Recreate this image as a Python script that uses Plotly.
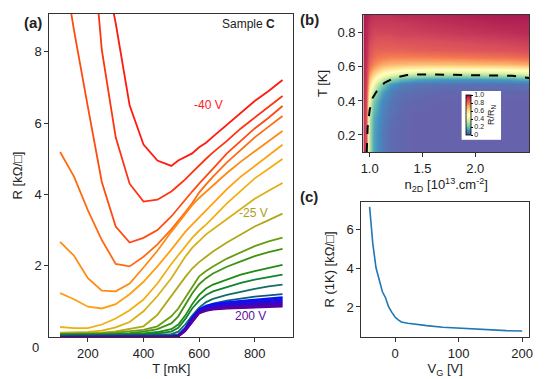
import plotly.graph_objects as go
import plotly.colors as pc

# ---- panel (a): R(T) for gate voltages -40 V ... 200 V ----
T_MK = [100, 150, 200, 250, 300, 350, 400, 450, 500, 525, 550, 575, 600, 625, 650, 700, 750, 800, 850, 900]

R_01 = [20, 16, 13, 10.8, 8.8, 6.5, 5.4, 4.95, 4.8, 4.95, 5.05, 5.15, 5.32, 5.45, 5.62, 5.95, 6.28, 6.62, 6.9, 7.21]
R_02 = [18, 15, 12.5, 8.05, 5.6, 4.3, 3.8, 3.85, 4.08, 4.25, 4.42, 4.62, 4.82, 5.0, 5.18, 5.5, 5.85, 6.15, 6.45, 6.76]
R_03 = [11, 8.6, 6.45, 4.35, 3.1, 2.65, 2.78, 3.0, 3.38, 3.62, 3.85, 4.08, 4.3, 4.5, 4.72, 5.15, 5.5, 5.85, 6.15, 6.48]
R_04 = [5.19, 4.5, 3.55, 2.72, 2.05, 1.98, 2.25, 2.6, 3.02, 3.25, 3.5, 3.75, 4.05, 4.28, 4.5, 4.9, 5.25, 5.6, 5.9, 6.2]
R_05 = [2.67, 2.28, 1.65, 1.3, 1.28, 1.5, 1.95, 2.42, 2.95, 3.2, 3.45, 3.7, 3.9, 4.08, 4.25, 4.6, 4.92, 5.2, 5.5, 5.78]
R_06 = [1.23, 1.06, 0.85, 0.8, 0.92, 1.2, 1.55, 1.98, 2.45, 2.7, 2.95, 3.15, 3.35, 3.55, 3.75, 4.15, 4.5, 4.8, 5.1, 5.39]
R_07 = [0.28, 0.25, 0.25, 0.35, 0.52, 0.75, 1.05, 1.5, 2.05, 2.3, 2.55, 2.78, 2.98, 3.15, 3.35, 3.75, 4.1, 4.45, 4.72, 4.99]
R_08 = [0.12, 0.12, 0.14, 0.18, 0.27, 0.42, 0.72, 1.15, 1.65, 1.95, 2.25, 2.5, 2.7, 2.88, 3.02, 3.3, 3.6, 3.88, 4.1, 4.32]
R_09 = [0.1, 0.1, 0.1, 0.12, 0.16, 0.22, 0.3, 0.62, 1.15, 1.45, 1.68, 1.92, 2.1, 2.25, 2.4, 2.65, 2.88, 3.1, 3.28, 3.46]
R_10 = [0.09, 0.09, 0.09, 0.1, 0.12, 0.15, 0.2, 0.3, 0.58, 0.8, 1.1, 1.42, 1.7, 1.85, 1.98, 2.2, 2.38, 2.55, 2.68, 2.79]
R_11 = [0.08, 0.08, 0.08, 0.08, 0.09, 0.11, 0.15, 0.22, 0.38, 0.58, 0.9, 1.22, 1.48, 1.65, 1.78, 1.97, 2.12, 2.27, 2.38, 2.47]
R_12 = [0.06, 0.06, 0.06, 0.06, 0.07, 0.08, 0.1, 0.14, 0.22, 0.35, 0.6, 0.92, 1.18, 1.36, 1.47, 1.62, 1.75, 1.85, 1.94, 2.02]
R_13 = [0.05, 0.05, 0.05, 0.05, 0.06, 0.07, 0.08, 0.1, 0.15, 0.26, 0.5, 0.8, 1.02, 1.18, 1.28, 1.4, 1.52, 1.61, 1.69, 1.75]
R_14 = [0.04, 0.04, 0.04, 0.04, 0.04, 0.05, 0.06, 0.07, 0.08, 0.15, 0.35, 0.6, 0.82, 0.98, 1.07, 1.18, 1.27, 1.35, 1.42, 1.47]
R_15 = [0.03, 0.03, 0.03, 0.03, 0.03, 0.03, 0.04, 0.04, 0.05, 0.07, 0.25, 0.5, 0.7, 0.86, 0.94, 1.02, 1.08, 1.13, 1.17, 1.2]
# dense blue/purple bundle (high gate voltages up to 200 V)
R_B01 = [0, 0, 0, 0, 0, 0, 0, 0, 0, 0.04, 0.25, 0.55, 0.78, 0.88, 0.93, 0.98, 1.02, 1.06, 1.09, 1.12]
R_B02 = [0, 0, 0, 0, 0, 0, 0, 0, 0, 0.04, 0.24, 0.54, 0.76, 0.86, 0.91, 0.96, 1.0, 1.03, 1.06, 1.09]
R_B03 = [0, 0, 0, 0, 0, 0, 0, 0, 0, 0.035, 0.23, 0.52, 0.75, 0.84, 0.89, 0.94, 0.97, 1.0, 1.03, 1.06]
R_B04 = [0, 0, 0, 0, 0, 0, 0, 0, 0, 0.03, 0.22, 0.5, 0.73, 0.82, 0.87, 0.92, 0.95, 0.98, 1.0, 1.03]
R_B05 = [0, 0, 0, 0, 0, 0, 0, 0, 0, 0.03, 0.21, 0.49, 0.72, 0.8, 0.85, 0.9, 0.93, 0.95, 0.98, 1.0]
R_B06 = [0, 0, 0, 0, 0, 0, 0, 0, 0, 0.025, 0.2, 0.47, 0.7, 0.79, 0.83, 0.87, 0.9, 0.93, 0.95, 0.97]
R_B07 = [0, 0, 0, 0, 0, 0, 0, 0, 0, 0.02, 0.19, 0.46, 0.69, 0.77, 0.81, 0.85, 0.88, 0.9, 0.92, 0.94]
R_B08 = [0, 0, 0, 0, 0, 0, 0, 0, 0, 0.02, 0.18, 0.45, 0.68, 0.76, 0.8, 0.83, 0.85, 0.87, 0.89, 0.91]
R_B09 = [0, 0, 0, 0, 0, 0, 0, 0, 0, 0.015, 0.17, 0.43, 0.67, 0.74, 0.78, 0.81, 0.83, 0.85, 0.86, 0.88]
R_B10 = [0, 0, 0, 0, 0, 0, 0, 0, 0, 0.01, 0.16, 0.42, 0.66, 0.73, 0.77, 0.8, 0.82, 0.83, 0.84, 0.85]

CURVES = [R_01, R_02, R_03, R_04, R_05, R_06, R_07, R_08, R_09, R_10, R_11, R_12, R_13, R_14, R_15]
BUNDLE = [R_B01, R_B02, R_B03, R_B04, R_B05, R_B06, R_B07, R_B08, R_B09, R_B10]

# ---- panel (b): R/R_N map over carrier density and temperature ----
N2D = [0.94, 0.97, 1.0, 1.03, 1.07, 1.12, 1.2, 1.3, 1.45, 1.7, 2.0, 2.3, 2.51]
T_K = [0.1, 0.2, 0.3, 0.4, 0.45, 0.5, 0.53, 0.56, 0.59, 0.62, 0.66, 0.7, 0.75, 0.8, 0.85, 0.905]
RN_MAP = [
    [0.95, 0.9, 0.3, 0.14, 0.1, 0.06, 0.03, 0.02, 0.01, 0.01, 0.01, 0.01, 0.01],
    [0.95, 0.88, 0.3, 0.14, 0.1, 0.06, 0.03, 0.02, 0.01, 0.01, 0.01, 0.01, 0.01],
    [0.95, 0.88, 0.32, 0.15, 0.11, 0.07, 0.04, 0.02, 0.01, 0.01, 0.01, 0.01, 0.01],
    [0.96, 0.9, 0.42, 0.22, 0.15, 0.09, 0.05, 0.03, 0.02, 0.01, 0.01, 0.01, 0.01],
    [0.96, 0.9, 0.52, 0.33, 0.22, 0.13, 0.07, 0.04, 0.03, 0.02, 0.02, 0.02, 0.02],
    [0.96, 0.92, 0.62, 0.45, 0.33, 0.22, 0.12, 0.07, 0.05, 0.04, 0.04, 0.04, 0.05],
    [0.96, 0.92, 0.68, 0.55, 0.45, 0.36, 0.26, 0.18, 0.14, 0.12, 0.12, 0.13, 0.16],
    [0.97, 0.93, 0.74, 0.64, 0.57, 0.5, 0.44, 0.38, 0.34, 0.32, 0.32, 0.34, 0.38],
    [0.97, 0.93, 0.8, 0.72, 0.67, 0.62, 0.58, 0.55, 0.53, 0.52, 0.52, 0.53, 0.56],
    [0.97, 0.94, 0.84, 0.78, 0.75, 0.72, 0.7, 0.69, 0.68, 0.68, 0.69, 0.7, 0.72],
    [0.97, 0.95, 0.87, 0.83, 0.81, 0.8, 0.79, 0.79, 0.79, 0.8, 0.81, 0.82, 0.84],
    [0.98, 0.95, 0.89, 0.86, 0.85, 0.85, 0.85, 0.85, 0.86, 0.87, 0.88, 0.89, 0.9],
    [0.98, 0.96, 0.91, 0.89, 0.88, 0.88, 0.88, 0.89, 0.89, 0.9, 0.91, 0.92, 0.93],
    [0.98, 0.96, 0.93, 0.91, 0.91, 0.91, 0.91, 0.92, 0.92, 0.93, 0.94, 0.95, 0.96],
    [0.99, 0.97, 0.94, 0.93, 0.93, 0.93, 0.93, 0.93, 0.94, 0.95, 0.96, 0.97, 0.97],
    [0.99, 0.98, 0.96, 0.95, 0.95, 0.95, 0.95, 0.96, 0.96, 0.97, 0.98, 0.99, 0.99],
]
# dashed boundary
BND_N = [0.972, 0.981, 1.0, 1.028, 1.075, 1.14, 1.234, 1.355, 1.514, 1.73, 2.0, 2.2, 2.35, 2.45, 2.51]
BND_T = [0.1, 0.247, 0.347, 0.418, 0.465, 0.506, 0.535, 0.553, 0.556, 0.553, 0.552, 0.55, 0.548, 0.54, 0.535]

# ---- panel (c): R at 1 K vs gate voltage ----
VG = [-40, -35, -30, -25, -20, -15, -10, -5, 0, 5, 10, 20, 30, 50, 75, 100, 125, 150, 175, 200]
R1K = [7.2, 5.3, 4.05, 3.4, 2.8, 2.48, 2.0, 1.72, 1.48, 1.33, 1.22, 1.15, 1.1, 1.03, 0.95, 0.9, 0.85, 0.8, 0.77, 0.75]

# line colours, red (-40 V) -> purple (200 V)
COLORS = ["#ff1a10", "#ff3212", "#ff4a12", "#ff6a12", "#ff8a12", "#ffa012", "#f0b012", "#d8b018",
          "#b0a818", "#6a9c12", "#3f9212", "#1f8c14", "#108430", "#106e62", "#105584"]
BUNDLE_COLORS = pc.n_colors("rgb(0,20,255)", "rgb(90,0,160)", len(BUNDLE), colortype="rgb")

W, H = 546, 379
def px(x): return x / W
def py(y): return 1 - y / H

FONT = "Liberation Sans, Arial, sans-serif"
INK = "#222222"

fig = go.Figure()
for r, c in zip(CURVES, COLORS):
    fig.add_trace(go.Scatter(x=T_MK, y=r, mode="lines", line=dict(color=c, width=1.8),
                             xaxis="x", yaxis="y", showlegend=False))
for r, c in zip(BUNDLE, BUNDLE_COLORS):
    fig.add_trace(go.Scatter(x=T_MK, y=r, mode="lines", line=dict(color=c, width=1.8),
                             xaxis="x", yaxis="y", showlegend=False))

fig.add_trace(go.Heatmap(
    x=N2D, y=T_K, z=RN_MAP, zmin=0, zmax=1, zsmooth="best", opacity=0.92,
    colorscale=pc.diverging.Spectral_r, xaxis="x2", yaxis="y2",
    colorbar=dict(x=px(465), xanchor="left", y=py(115), yanchor="middle",
                  len=48 / H, lenmode="fraction", thickness=5, xpad=4, ypad=4,
                  bgcolor="white", outlinecolor="black", outlinewidth=0.8,
                  tickvals=[0, 0.2, 0.4, 0.6, 0.8, 1.0],
                  ticktext=["0", "0.2", "0.4", "0.6", "0.8", "1.0"],
                  ticks="outside", ticklen=2, tickcolor="black",
                  tickfont=dict(size=7, color=INK, family=FONT),
                  title=dict(text="R/R<sub>N</sub>", side="right",
                             font=dict(size=9, color=INK, family=FONT)))))
fig.add_trace(go.Scatter(x=BND_N, y=BND_T, mode="lines", line=dict(color="black", width=2, dash="dash"),
                         xaxis="x2", yaxis="y2", showlegend=False))

fig.add_trace(go.Scatter(x=VG, y=R1K, mode="lines", line=dict(color="#1f77b4", width=1.6),
                         xaxis="x3", yaxis="y3", showlegend=False))

axis = dict(showline=True, mirror=True, linecolor="#333333", linewidth=1.2, showgrid=False,
            zeroline=False, ticks="outside", ticklen=4, tickcolor="#333333",
            tickfont=dict(size=13, color=INK, family=FONT))
tfont = dict(size=13, color=INK, family=FONT)

fig.update_layout(
    width=W, height=H, margin=dict(l=0, r=0, t=0, b=0),
    paper_bgcolor="white", plot_bgcolor="white", showlegend=False,
    font=dict(family=FONT, color=INK, size=13),
    xaxis=dict(domain=[px(47), px(294)], range=[61.5, 938.5], anchor="y",
               tickvals=[200, 400, 600, 800],
               title=dict(text="T [mK]", font=tfont, standoff=4), **axis),
    yaxis=dict(domain=[py(337), py(14)], range=[0, 9.06], anchor="x",
               tickvals=[2, 4, 6, 8],
               title=dict(text="R [kΩ/□]", font=tfont, standoff=8), **axis),
    xaxis2=dict(domain=[px(365), px(533)], range=[0.94, 2.51], anchor="y2",
                tickvals=[1.0, 1.5, 2.0], ticktext=["1.0", "1.5", "2.0"],
                title=dict(text="n<sub>2D</sub> [10<sup>13</sup>.cm<sup>-2</sup>]", font=tfont, standoff=4),
                **axis),
    yaxis2=dict(domain=[py(152), py(15)], range=[0.1, 0.905], anchor="x2",
                tickvals=[0.2, 0.4, 0.6, 0.8], ticktext=["0.2", "0.4", "0.6", "0.8"],
                title=dict(text="T [K]", font=tfont, standoff=6), **axis),
    xaxis3=dict(domain=[px(363), px(533)], range=[-53, 211], anchor="y3",
                tickvals=[0, 100, 200],
                title=dict(text="V<sub>G</sub> [V]", font=tfont, standoff=4), **axis),
    yaxis3=dict(domain=[py(337), py(202)], range=[0.44, 7.45], anchor="x3",
                tickvals=[2, 4, 6],
                title=dict(text="R (1K) [kΩ/□]", font=tfont, standoff=8), **axis),
)

ann = [
    dict(text="<b>(a)</b>", x=px(19), y=py(22), xanchor="left", yanchor="middle", font=dict(size=15)),
    dict(text="<b>(b)</b>", x=px(299), y=py(20), xanchor="left", yanchor="middle", font=dict(size=15)),
    dict(text="<b>(c)</b>", x=px(299), y=py(196), xanchor="left", yanchor="middle", font=dict(size=15)),
    dict(text="Sample <b>C</b>", x=px(278), y=py(24), xanchor="right", yanchor="middle", font=dict(size=12)),
    dict(text="0", x=px(38), y=py(347), xanchor="right", yanchor="middle", font=dict(size=13)),
]
for a in ann:
    a.update(xref="paper", yref="paper", showarrow=False)
    a["font"] = dict(family=FONT, color=INK, **a["font"])
    fig.add_annotation(**a)

fig.add_annotation(text="-40 V", x=633, y=6.5, xref="x", yref="y", showarrow=False,
                   font=dict(family=FONT, size=12, color="#ff2020"))
fig.add_annotation(text="-25 V", x=797, y=3.48, xref="x", yref="y", showarrow=False,
                   font=dict(family=FONT, size=12, color="#a8a020"))
fig.add_annotation(text="200 V", x=786, y=0.59, xref="x", yref="y", showarrow=False,
                   font=dict(family=FONT, size=12, color="#5a10a0"))

# the page body has a default 8px margin; drop it so the figure sits at the window origin
fig.write_html("out.html", config={"displayModeBar": False},
               post_script="document.body.style.margin='0';")
